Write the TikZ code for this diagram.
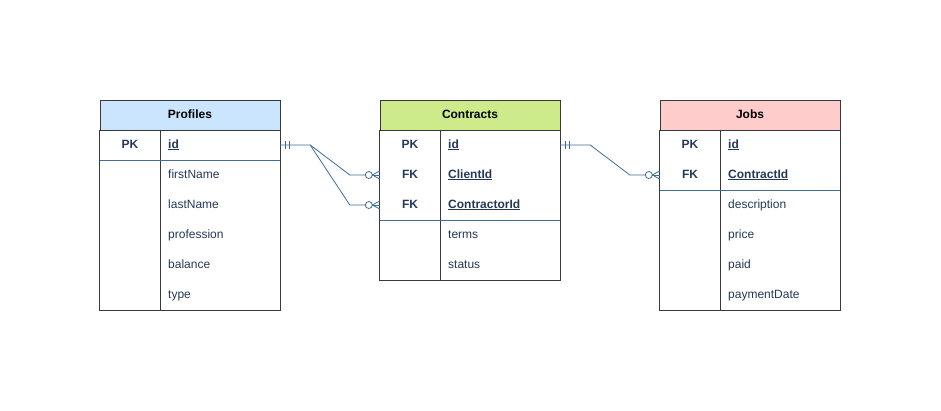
\documentclass[tikz,border=0pt]{standalone}
\usepackage{fontspec}
\setmainfont{Liberation Sans}
\usetikzlibrary{calc}
\definecolor{bordc}{RGB}{54,57,61}
\definecolor{txtc}{RGB}{37,56,88}
\definecolor{linec}{RGB}{64,110,150}
\definecolor{hdrblue}{RGB}{204,229,255}
\definecolor{hdrgreen}{RGB}{205,235,139}
\definecolor{hdrred}{RGB}{255,204,204}
\begin{document}
\begin{tikzpicture}[x=1pt,y=-1pt,
  every node/.style={font=\fontsize{12}{14}\selectfont, text=txtc, inner sep=0pt},
  txt/.style={text height=8.6pt, text depth=2.4pt},
  rowbox/.style={minimum width=180pt, minimum height=30pt, draw=none},
  hdr/.style={draw=bordc, line width=0.8pt, minimum width=180pt, minimum height=30pt, font=\fontsize{12}{14}\selectfont\bfseries, text=black, text height=8.6pt, text depth=2.4pt},
  keyt/.style={txt, font=\fontsize{12}{14}\selectfont\bfseries},
  fld/.style={txt, anchor=west},
  frame/.style={draw=bordc, line width=0.8pt},
  sep/.style={draw=linec, line width=0.8pt},
  conn/.style={draw=linec, line width=0.8pt},
]
\useasboundingbox (0,0) rectangle (941,411);
\fill[white] (0,0) rectangle (941,411);

% ---------- Profiles ----------
\node[hdr, fill=hdrblue] (ph) at (190,115) {Profiles};
\node[rowbox] (p1) at (190,145) {};
\node[rowbox] (p2) at (190,175) {};
\node[rowbox] (p3) at (190,205) {};
\node[rowbox] (p4) at (190,235) {};
\node[rowbox] (p5) at (190,265) {};
\node[rowbox] (p6) at (190,295) {};
\draw[frame] (ph.south west) rectangle (p6.south east);
\draw[frame] (160,130) -- (160,310);
\draw[sep] (p1.south west) -- (p1.south east);
\node[keyt] at (130,145) {PK};
\node[fld, keyt] at (168,145) {\underline{id}};
\node[fld] at (168,175) {firstName};
\node[fld] at (168,205) {lastName};
\node[fld] at (168,235) {profession};
\node[fld] at (168,265) {balance};
\node[fld] at (168,295) {type};

% ---------- Contracts ----------
\node[hdr, fill=hdrgreen] (ch) at (470,115) {Contracts};
\node[rowbox] (c1) at (470,145) {};
\node[rowbox] (c2) at (470,175) {};
\node[rowbox] (c3) at (470,205) {};
\node[rowbox] (c4) at (470,235) {};
\node[rowbox] (c5) at (470,265) {};
\draw[frame] (ch.south west) rectangle (c5.south east);
\draw[frame] (440,130) -- (440,280);
\draw[sep] (c3.south west) -- (c3.south east);
\node[keyt] at (410,145) {PK};
\node[keyt] at (410,175) {FK};
\node[keyt] at (410,205) {FK};
\node[fld, keyt] at (448,145) {\underline{id}};
\node[fld, keyt] at (448,175) {\underline{ClientId}};
\node[fld, keyt] at (448,205) {\underline{ContractorId}};
\node[fld] at (448,235) {terms};
\node[fld] at (448,265) {status};

% ---------- Jobs ----------
\node[hdr, fill=hdrred] (jh) at (750,115) {Jobs};
\node[rowbox] (j1) at (750,145) {};
\node[rowbox] (j2) at (750,175) {};
\node[rowbox] (j3) at (750,205) {};
\node[rowbox] (j4) at (750,235) {};
\node[rowbox] (j5) at (750,265) {};
\node[rowbox] (j6) at (750,295) {};
\draw[frame] (jh.south west) rectangle (j6.south east);
\draw[frame] (720,130) -- (720,310);
\draw[sep] (j2.south west) -- (j2.south east);
\node[keyt] at (690,145) {PK};
\node[keyt] at (690,175) {FK};
\node[fld, keyt] at (728,145) {\underline{id}};
\node[fld, keyt] at (728,175) {\underline{ContractId}};
\node[fld] at (728,205) {description};
\node[fld] at (728,235) {price};
\node[fld] at (728,265) {paid};
\node[fld] at (728,295) {paymentDate};

% ---------- connectors ----------
\draw[conn] (p1.east) -- ++(30,0) -- ($(c2.west)+(-30,0)$) -- ($(c2.west)+(-7.5,0)$);
\draw[conn] ($(p1.east)+(30,0)$) -- ($(c3.west)+(-30,0)$) -- ($(c3.west)+(-7.5,0)$);
\draw[conn] (c1.east) -- ++(30,0) -- ($(j2.west)+(-30,0)$) -- ($(j2.west)+(-7.5,0)$);

% one marks
\foreach \n in {p1,c1}{
  \draw[conn] ($(\n.east)+(5,-4)$) -- ++(0,8);
  \draw[conn] ($(\n.east)+(9,-4)$) -- ++(0,8);
}
% zero-to-many marks
\foreach \n in {c2,c3,j2}{
  \draw[conn, fill=white] ($(\n.west)+(-11,0)$) circle (3.5);
  \draw[conn] ($(\n.west)+(-7.5,0)$) -- (\n.west);
  \draw[conn] ($(\n.west)+(-7.5,0)$) -- ($(\n.west)+(0,-4)$);
  \draw[conn] ($(\n.west)+(-7.5,0)$) -- ($(\n.west)+(0,4)$);
}
\end{tikzpicture}
\end{document}
